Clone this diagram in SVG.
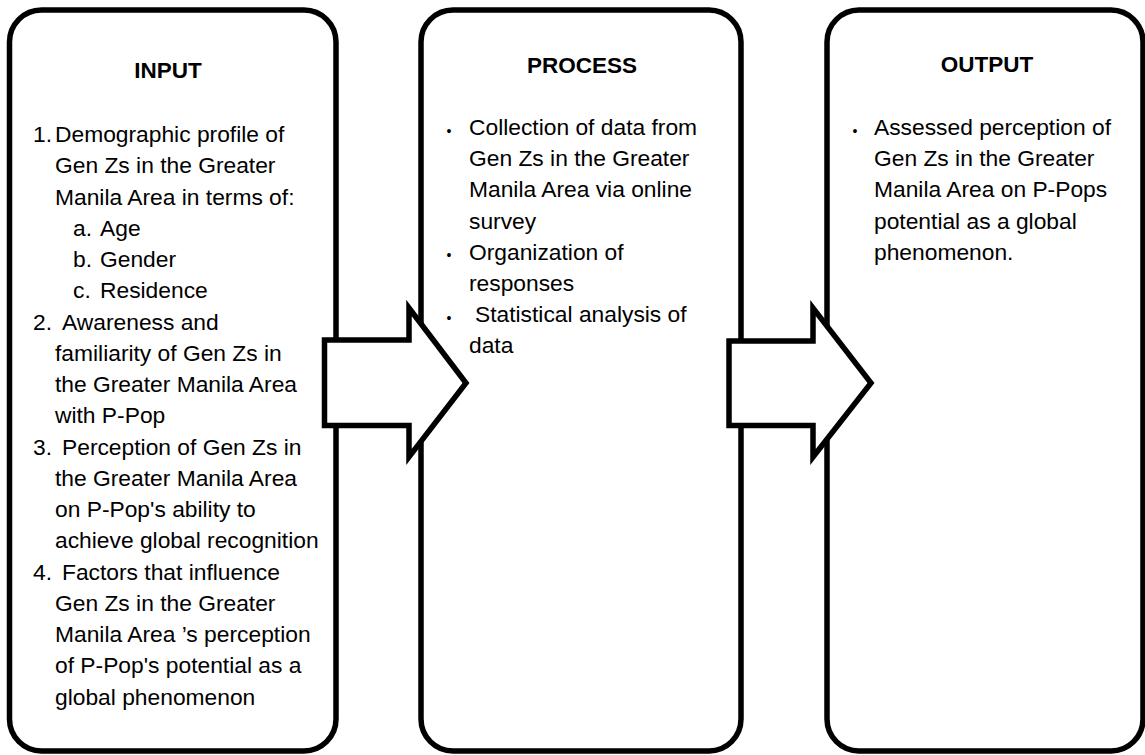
<svg xmlns="http://www.w3.org/2000/svg" width="1145" height="755" viewBox="0 0 1145 755">
<style>
.box{fill:#fff;stroke:#000;stroke-width:5.5}
.arr{fill:#fff;stroke:#000;stroke-width:5.5;stroke-linejoin:miter}
.h{font-family:"Liberation Sans",Arial,sans-serif;font-weight:bold;font-size:22.5px;fill:#000;text-anchor:middle}
.t{font-family:"Liberation Sans",Arial,sans-serif;font-size:22.8px;fill:#000}
.b{font-family:"Liberation Sans",Arial,sans-serif;font-size:14px;fill:#000}
</style>
<rect width="1145" height="755" fill="#fff"/>
<g id="input">
<rect class="box" x="9.5" y="10" width="326.5" height="741" rx="32" ry="32"/>
<text class="h" x="168" y="78">INPUT</text>
<g class="t">
<text x="33" y="142">1.</text><text x="55" y="142">Demographic profile of</text>
<text x="55" y="173.2">Gen Zs in the Greater</text>
<text x="55" y="204.5">Manila Area in terms of:</text>
<text x="73" y="235.7">a.</text><text x="100" y="235.7">Age</text>
<text x="73" y="267">b.</text><text x="100" y="267">Gender</text>
<text x="73" y="298.2">c.</text><text x="100" y="298.2">Residence</text>
<text x="33" y="329.5">2.</text><text x="62" y="329.5">Awareness and</text>
<text x="55" y="360.7">familiarity of Gen Zs in</text>
<text x="55" y="392">the Greater Manila Area</text>
<text x="55" y="423.2">with P-Pop</text>
<text x="33" y="454.5">3.</text><text x="62" y="454.5">Perception of Gen Zs in</text>
<text x="55" y="485.7">the Greater Manila Area</text>
<text x="55" y="517">on P-Pop's ability to</text>
<text x="55" y="548.2">achieve global recognition</text>
<text x="33" y="579.5">4.</text><text x="62" y="579.5">Factors that influence</text>
<text x="55" y="610.7">Gen Zs in the Greater</text>
<text x="55" y="642">Manila Area ’s perception</text>
<text x="55" y="673.2">of P-Pop's potential as a</text>
<text x="55" y="704.5">global phenomenon</text>
</g>
</g>
<g id="process">
<rect class="box" x="421" y="10" width="320" height="741" rx="32" ry="32"/>
<text class="h" x="582" y="73">PROCESS</text>
<g class="t">
<text x="469" y="135">Collection of data from</text>
<text x="469" y="166.2">Gen Zs in the Greater</text>
<text x="469" y="197.4">Manila Area via online</text>
<text x="469" y="228.6">survey</text>
<text x="469" y="259.8">Organization of</text>
<text x="469" y="291">responses</text>
<text x="475" y="322.2">Statistical analysis of</text>
<text x="469" y="353.4">data</text>
</g>
<g class="b">
<text x="446.5" y="135.5">•</text>
<text x="446.5" y="260.3">•</text>
<text x="446.5" y="322.7">•</text>
</g>
</g>
<g id="output">
<rect class="box" x="827" y="10" width="316" height="741" rx="32" ry="32"/>
<text class="h" x="987" y="72">OUTPUT</text>
<g class="t">
<text x="874" y="135">Assessed perception of</text>
<text x="874" y="166.2">Gen Zs in the Greater</text>
<text x="874" y="197.4">Manila Area on P-Pops</text>
<text x="874" y="228.6">potential as a global</text>
<text x="874" y="259.8">phenomenon.</text>
</g>
<g class="b">
<text x="852.5" y="135.5">•</text>
</g>
</g>
<g id="connectors">
<polygon class="arr" points="324.5,340 409,340 409,308 466,383 409,457 409,425.5 324.5,425.5"/>
<polygon class="arr" points="729,341 813,341 813,308 871,383 813,457 813,425.5 729,425.5"/>
</g>
</svg>
